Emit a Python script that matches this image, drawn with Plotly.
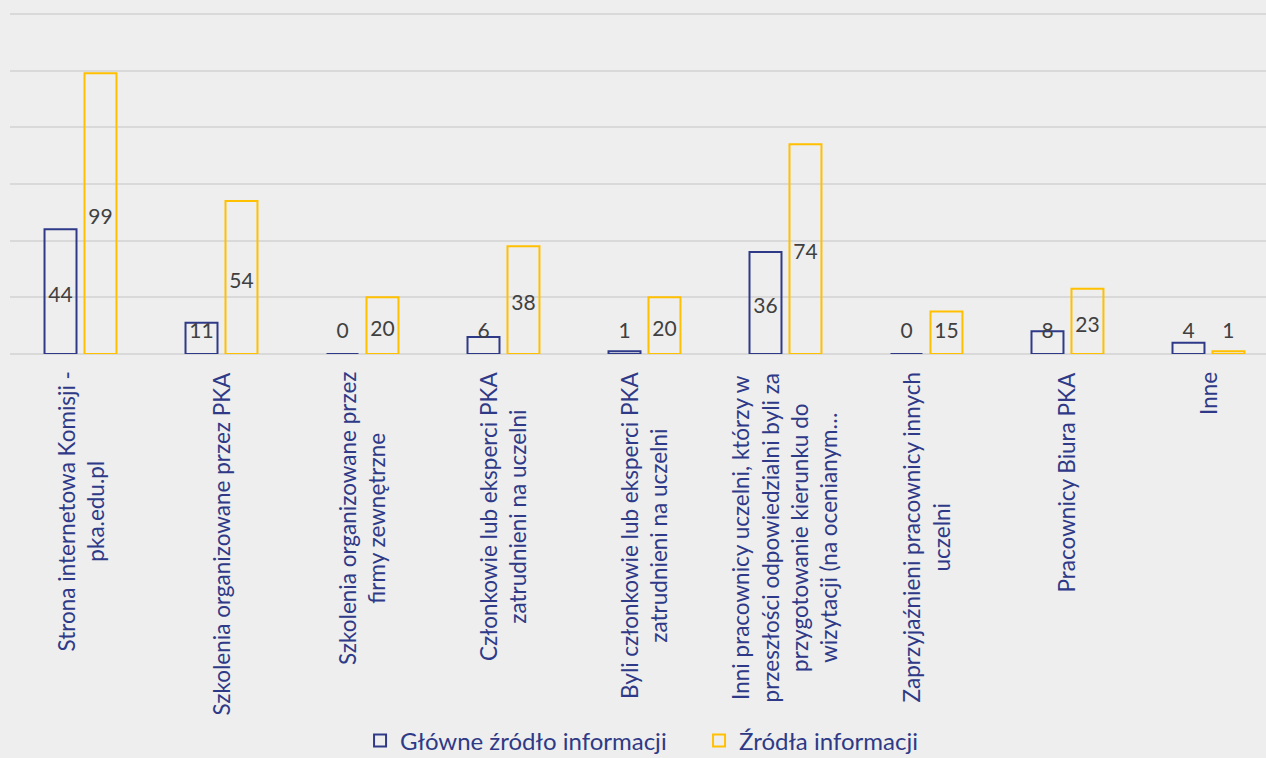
import plotly.graph_objects as go

categories = [
    "Strona internetowa Komisji -<br>pka.edu.pl",
    "Szkolenia organizowane przez PKA",
    "Szkolenia organizowane przez<br>firmy zewnętrzne",
    "Członkowie lub eksperci PKA<br>zatrudnieni na uczelni",
    "Byli członkowie lub eksperci PKA<br>zatrudnieni na uczelni",
    "Inni pracownicy uczelni, którzy w<br>przeszłości odpowiedzialni byli za<br>przygotowanie kierunku do<br>wizytacji (na ocenianym…",
    "Zaprzyjaźnieni pracownicy innych<br>uczelni",
    "Pracownicy Biura PKA",
    "Inne",
]
glowne = [44, 11, 0, 6, 1, 36, 0, 8, 4]
zrodla = [99, 54, 20, 38, 20, 74, 15, 23, 1]
series_names = ["Główne źródło informacji", "Źródła informacji"]

BG = "#EEEEEE"
NAVY = "#2E3A87"
GOLD = "#FFC000"
LABEL = "#404040"
FONT = "Lato"
BARGAP = 0.433
BARGROUPGAP = 0.2
LABEL_MIN = 9.3   # labels never sit lower than this (data units)
LABEL_DROP = 1.8  # small downward nudge of the labels (data units)

idx = list(range(len(categories)))
half = (1 - BARGAP) / 4

fig = go.Figure()
for vals, name, col in [(glowne, series_names[0], NAVY), (zrodla, series_names[1], GOLD)]:
    fig.add_trace(go.Bar(
        x=idx, y=vals, name=name,
        marker=dict(color="rgba(0,0,0,0)", line=dict(color=col, width=2)),
        hoverinfo="y",
    ))

for vals, sign in [(glowne, -1), (zrodla, 1)]:
    fig.add_trace(go.Scatter(
        x=[i + sign * half for i in idx],
        y=[max(v / 2, LABEL_MIN) - LABEL_DROP for v in vals],
        text=[str(v) for v in vals],
        mode="text",
        textfont=dict(family=FONT, size=21, color=LABEL),
        showlegend=False, hoverinfo="skip",
    ))

for i, c in zip(idx, categories):
    fig.add_annotation(
        x=i, xref="x", y=-0.0466, yref="paper",
        text=c, textangle=-90, xanchor="center", yanchor="top",
        align="center", showarrow=False,
        font=dict(family=FONT, size=22.5, color=NAVY),
    )

fig.update_layout(
    width=1266, height=758,
    margin=dict(l=10, r=0, t=11, b=404),
    paper_bgcolor=BG, plot_bgcolor=BG,
    barmode="group", bargap=BARGAP, bargroupgap=BARGROUPGAP,
    font=dict(family=FONT, color=NAVY),
    showlegend=True,
    legend=dict(
        orientation="h", x=0.2787, xanchor="left",
        y=0.0225, yref="container", yanchor="middle",
        font=dict(family=FONT, size=24, color=NAVY),
        bgcolor="rgba(0,0,0,0)", itemwidth=30, traceorder="normal",
        entrywidth=294,
    ),
    xaxis=dict(range=[-0.5, 8.408], showticklabels=False, showgrid=False,
               zeroline=False, ticks="", fixedrange=True),
    yaxis=dict(range=[0, 121], tickvals=[0, 20, 40, 60, 80, 100, 120],
               showticklabels=False, showgrid=True,
               gridcolor="#D9D9D9", gridwidth=1.5, zeroline=True,
               zerolinecolor="#D9D9D9", zerolinewidth=1.5, ticks=""),
)

fig.write_html(
    "out.html",
    config={"displayModeBar": False},
    post_script="document.body.style.margin='0';document.body.style.overflow='hidden';",
)
